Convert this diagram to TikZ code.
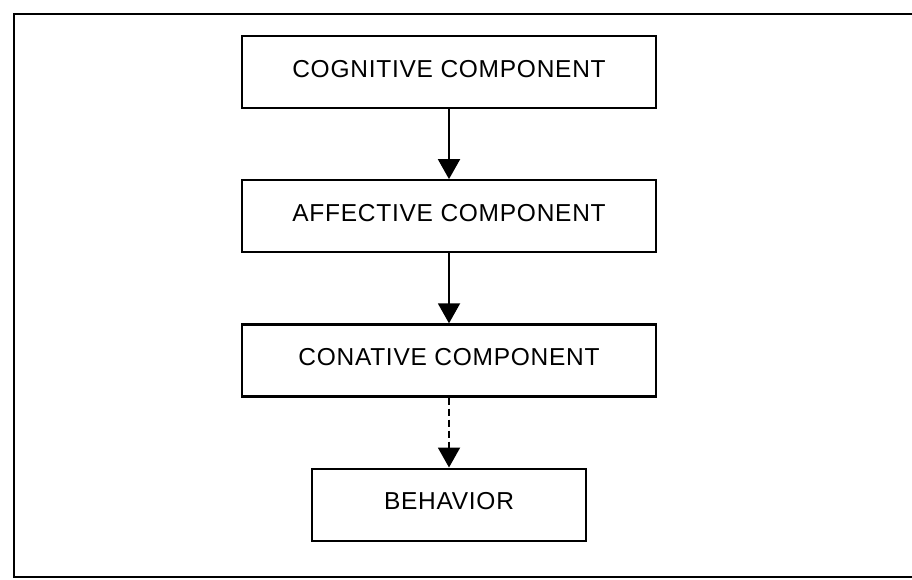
\documentclass[tikz,border=0pt]{standalone}
\usepackage{fontspec}
\setmainfont{Liberation Sans}
\newfontfamily\stagefont[LetterSpace=3]{Liberation Sans}
\usetikzlibrary{arrows.meta,positioning}

\begin{document}
\begin{tikzpicture}[x=1pt,y=1pt,node distance=70pt]
    \tikzset{stage/.style={draw,line width=2.2pt,minimum width=414pt,minimum height=72pt,
        inner sep=0pt,text height=18pt,text depth=8pt,font=\stagefont\fontsize{24.5}{29}\selectfont},
      flow/.style={line width=2pt,-{Triangle[length=20pt,width=22pt]}}}
    \useasboundingbox (0,0) rectangle (912,-579);
    % outer frame (right side cut off)
    \draw[line width=2.8pt] (912,-14) -- (14,-14) -- (14,-577) -- (912,-577);
    \node[stage] (cog) at (449,-72) {COGNITIVE COMPONENT};
    \node[stage,below=of cog] (aff) {AFFECTIVE COMPONENT};
    \node[stage,below=of aff] (con) {CONATIVE COMPONENT};
    \node[stage,minimum width=274pt,below=of con] (beh) {BEHAVIOR};
    \draw[flow] (cog) -- (aff);
    \draw[flow] (aff) -- (con);
    \draw[flow,dash pattern=on 7pt off 4pt] (con) -- (beh);
  \end{tikzpicture}
\end{document}
